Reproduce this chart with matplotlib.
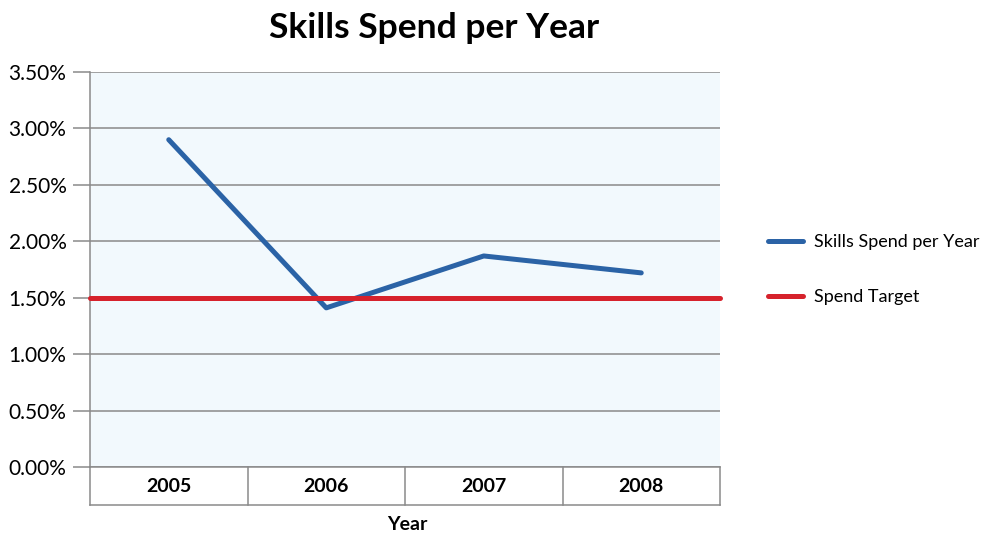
import matplotlib.pyplot as plt
from matplotlib.ticker import FuncFormatter

plt.rcParams['font.family'] = ['Lato', 'DejaVu Sans']

years = ['2005', '2006', '2007', '2008']
skills_spend = [2.90, 1.41, 1.87, 1.72]
spend_target = 1.50
y_ticks = [0.0, 0.5, 1.0, 1.5, 2.0, 2.5, 3.0, 3.5]

blue = '#2b63a6'
red = '#d6222c'
grid_col = '#8a8a8a'

fig = plt.figure(figsize=(9.85, 5.34), dpi=100)
W, H = 985, 534
ax = fig.add_axes([90 / W, 1 - 467 / H, 630 / W, 395 / H])
ax.set_facecolor('#f2f9fd')

x = list(range(len(years)))
ax.plot(x, skills_spend, color=blue, lw=3.6, solid_capstyle='round',
        solid_joinstyle='round', label='Skills Spend per Year', zorder=3)
ax.plot([-0.5, len(years) - 0.5], [spend_target, spend_target], color=red,
        lw=3.6, solid_capstyle='round', label='Spend Target', zorder=3,
        clip_on=False)

ax.set_xlim(-0.5, len(years) - 0.5)
ax.set_ylim(0, 3.5)
ax.set_yticks(y_ticks)
ax.yaxis.set_major_formatter(FuncFormatter(lambda v, p: f'{v:.2f}%'))
ax.grid(axis='y', color=grid_col, lw=1.1)
ax.set_axisbelow(True)
ax.tick_params(axis='y', length=12, width=1.1, color=grid_col, labelsize=15,
               pad=5)
ax.set_xticks([])
for s in ['top', 'right']:
    ax.spines[s].set_visible(False)
for s in ['left', 'bottom']:
    ax.spines[s].set_color(grid_col)
    ax.spines[s].set_linewidth(1.1)

# category table under the plot
box_h = 38 / 395
tbl = dict(color=grid_col, lw=1.1, clip_on=False, transform=ax.transAxes)
ax.plot([0, 0], [0, -box_h], **tbl)
ax.plot([0, 1], [-box_h, -box_h], **tbl)
for i in range(1, len(years) + 1):
    xf = i / len(years)
    ax.plot([xf, xf], [0, -box_h], **tbl)
for i, yr in enumerate(years):
    ax.text((i + 0.5) / len(years), -box_h / 2, yr, transform=ax.transAxes,
            ha='center', va='center', fontsize=14, fontweight='bold')

fig.text(407 / W, 1 - 524 / H, 'Year', ha='center', va='center',
         fontsize=14, fontweight='bold')
fig.text(434 / W, 1 - 28 / H, 'Skills Spend per Year', ha='center',
         va='center', fontsize=25.5, fontweight='bold')

fig.legend(loc='upper left', bbox_to_anchor=(768 / W, 1 - 234 / H),
           frameon=False, fontsize=13, handlelength=1.95, labelspacing=2.15,
           handletextpad=0.6, borderpad=0, borderaxespad=0)

fig.savefig('out.png', dpi=100)
